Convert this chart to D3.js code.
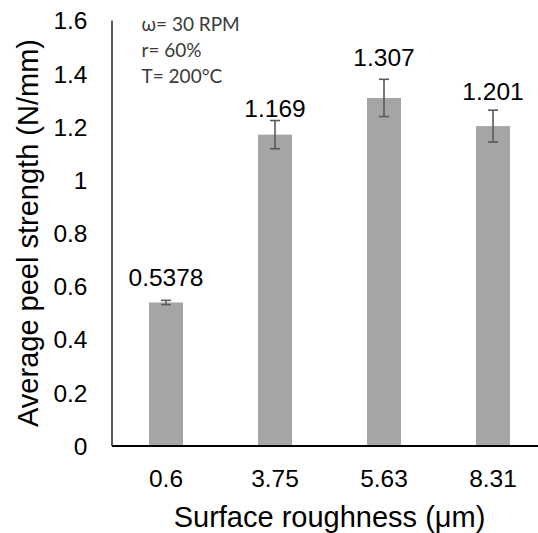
<!DOCTYPE html>
<html>
<head>
<meta charset="utf-8">
<script src="https://cdn.jsdelivr.net/npm/d3@7"></script>
<style>
  html, body { margin: 0; padding: 0; background: #fff; }
  svg { display: block; }
</style>
</head>
<body>
<svg id="chart" width="538" height="533"></svg>
<script>
// Peel strength per surface roughness
const roughness = ["0.6", "3.75", "5.63", "8.31"];
const peelStrength = [0.5378, 1.169, 1.307, 1.201];
const peelError = [0.008, 0.053, 0.07, 0.06];
const valueLabels = ["0.5378", "1.169", "1.307", "1.201"];
const yTicks = [0, 0.2, 0.4, 0.6, 0.8, 1, 1.2, 1.4, 1.6];
const yTickLabels = ["0", "0.2", "0.4", "0.6", "0.8", "1", "1.2", "1.4", "1.6"];
const conditions = ["ω= 30 RPM", "r= 60%", "T= 200°C"];

const svg = d3.select("#chart");
const plot = { left: 111.5, right: 547.5, top: 20, bottom: 445.5 };

const x = d3.scaleBand()
  .domain(roughness)
  .range([plot.left, plot.right])
  .paddingInner(0.688)
  .paddingOuter(0.344);

const y = d3.scaleLinear()
  .domain([0, 1.6])
  .range([plot.bottom, plot.top]);

const sans = "'Liberation Sans', Arial, sans-serif";

// bars
svg.append("g")
  .selectAll("rect")
  .data(roughness)
  .join("rect")
  .attr("x", d => x(d))
  .attr("width", x.bandwidth())
  .attr("y", (d, i) => y(peelStrength[i]))
  .attr("height", (d, i) => y(0) - y(peelStrength[i]))
  .attr("fill", "#a5a5a5");

// error bars
const capHalf = 5;
const err = svg.append("g")
  .attr("stroke", "#595959")
  .attr("stroke-width", 1.6)
  .attr("fill", "none");
roughness.forEach((d, i) => {
  const cx = x(d) + x.bandwidth() / 2;
  const hi = y(peelStrength[i] + peelError[i]);
  const lo = y(peelStrength[i] - peelError[i]);
  err.append("line").attr("x1", cx).attr("x2", cx).attr("y1", hi).attr("y2", lo);
  err.append("line").attr("x1", cx - capHalf).attr("x2", cx + capHalf).attr("y1", hi).attr("y2", hi);
  err.append("line").attr("x1", cx - capHalf).attr("x2", cx + capHalf).attr("y1", lo).attr("y2", lo);
});

// value labels, lifted above the error caps
const labelLift = [14, 4, 13, 10];
svg.append("g")
  .selectAll("text")
  .data(roughness)
  .join("text")
  .attr("x", d => x(d) + x.bandwidth() / 2)
  .attr("y", (d, i) => y(peelStrength[i] + peelError[i]) - labelLift[i])
  .attr("text-anchor", "middle")
  .attr("font-family", sans)
  .attr("font-size", 24.5)
  .attr("fill", "#000")
  .text((d, i) => valueLabels[i]);

// y axis
const yAxis = svg.append("g")
  .attr("transform", `translate(${plot.left},0)`)
  .call(d3.axisLeft(y)
    .tickValues(yTicks)
    .tickFormat((d, i) => yTickLabels[i])
    .tickSize(0)
    .tickPadding(24));
yAxis.select(".domain").attr("stroke", "#000").attr("stroke-width", 1.3);
yAxis.selectAll("text")
  .attr("font-family", sans)
  .attr("font-size", 24.5)
  .attr("fill", "#000")
  .attr("dy", "0.36em");

// x axis
const xAxis = svg.append("g")
  .attr("transform", `translate(0,${plot.bottom})`)
  .call(d3.axisBottom(x).tickSize(0).tickPadding(0));
xAxis.select(".domain").attr("stroke", "#000").attr("stroke-width", 2);
xAxis.selectAll("text")
  .attr("font-family", sans)
  .attr("font-size", 24.5)
  .attr("fill", "#000")
  .attr("dy", 0)
  .attr("y", 41);

// axis titles
svg.append("text")
  .attr("transform", `translate(37.5,233) rotate(-90)`)
  .attr("text-anchor", "middle")
  .attr("font-family", sans)
  .attr("font-size", 29)
  .attr("fill", "#000")
  .text("Average peel strength (N/mm)");

svg.append("text")
  .attr("x", (plot.left + plot.right) / 2)
  .attr("y", 527)
  .attr("text-anchor", "middle")
  .attr("font-family", sans)
  .attr("font-size", 29)
  .attr("fill", "#000")
  .text("Surface roughness (μm)");

// process conditions note
svg.append("g")
  .selectAll("text")
  .data(conditions)
  .join("text")
  .attr("x", 141.5)
  .attr("y", (d, i) => 30.7 + i * 26.3)
  .attr("font-family", "Lato, 'Open Sans', sans-serif")
  .attr("font-size", 19)
  .attr("fill", "#3a3a3a")
  .text(d => d);
</script>
</body>
</html>
